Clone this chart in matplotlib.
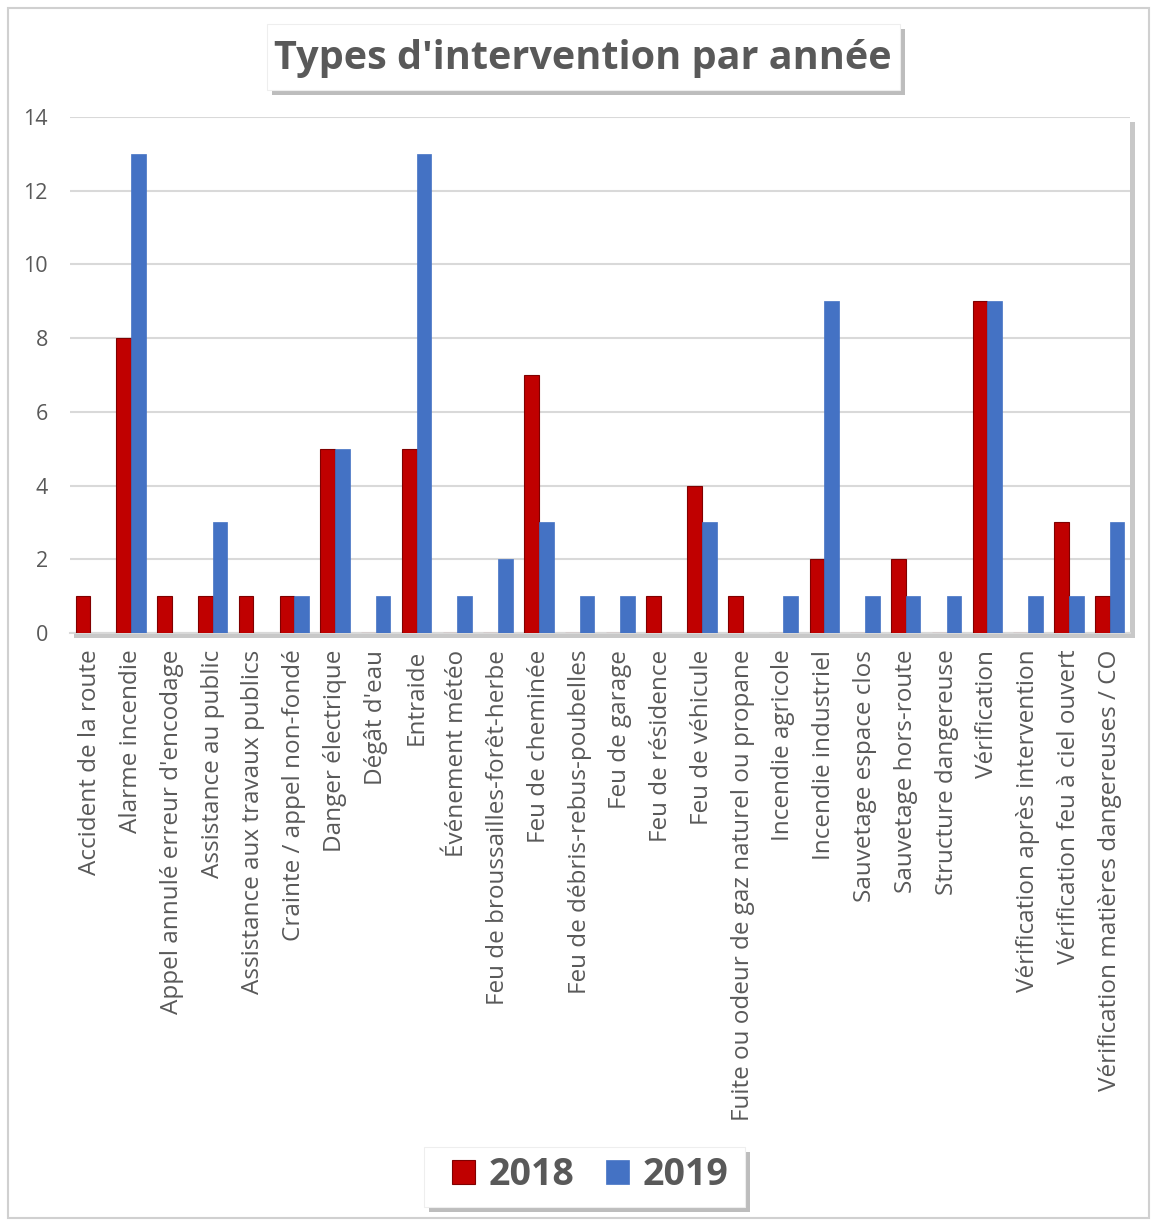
import matplotlib.pyplot as plt
import numpy as np
from matplotlib.patches import Rectangle

categories = [
    "Accident de la route", "Alarme incendie", "Appel annulé erreur d'encodage",
    "Assistance au public", "Assistance aux travaux publics", "Crainte / appel non-fondé",
    "Danger électrique", "Dégât d'eau", "Entraide", "Événement météo",
    "Feu de broussailles-forêt-herbe", "Feu de cheminée", "Feu de débris-rebus-poubelles",
    "Feu de garage", "Feu de résidence", "Feu de véhicule",
    "Fuite ou odeur de gaz naturel ou propane", "Incendie agricole", "Incendie industriel",
    "Sauvetage espace clos", "Sauvetage hors-route", "Structure dangereuse",
    "Vérification", "Vérification après intervention", "Vérification feu à ciel ouvert",
    "Vérification matières dangereuses / CO",
]
y2018 = [1, 8, 1, 1, 1, 1, 5, 0, 5, 0, 0, 7, 0, 0, 1, 4, 1, 0, 2, 0, 2, 0, 9, 0, 3, 1]
y2019 = [0, 13, 0, 3, 0, 1, 5, 1, 13, 1, 2, 3, 1, 1, 0, 3, 0, 1, 9, 1, 1, 1, 9, 1, 1, 3]

RED = '#C00000'
BLUE = '#4472C4'
GREY = '#595959'
plt.rcParams['font.family'] = ['Open Sans', 'DejaVu Sans']

fig = plt.figure(figsize=(11.51, 12.2), dpi=100)
W, H = 1151, 1220

def px_rect(x0, y0, x1, y1, **kw):
    # rectangle in pixel coords (top-left origin) -> figure fraction
    return Rectangle((x0 / W, 1 - y1 / H), (x1 - x0) / W, (y1 - y0) / H,
                     transform=fig.transFigure, **kw)

# outer frame
fig.patches.append(px_rect(8, 8, 1149, 1218, facecolor='white', edgecolor='#D0D0D0', lw=1.5, zorder=-2))

# plot area shadow
fig.patches.append(px_rect(74, 122, 1135, 638, facecolor='#C8C8C8', edgecolor='none', zorder=-1))

ax = fig.add_axes([70 / W, 1 - 633 / H, 1060 / W, 516 / H])
ax.set_zorder(5)
ax.set_facecolor('white')
x = np.arange(len(categories))
bw = 0.36
ax.bar(x - bw / 2, y2018, bw, color=RED, edgecolor='#800000', lw=0.8, label='2018', zorder=3)
ax.bar(x + bw / 2, y2019, bw, color=BLUE, edgecolor=BLUE, lw=0.5, label='2019', zorder=3)

ax.set_xlim(-0.5, len(categories) - 0.5)
ax.set_ylim(0, 14)
ax.set_yticks(range(0, 15, 2))
ax.grid(axis='y', color='#D9D9D9', lw=1.5, zorder=0)
ax.set_xticks(x)
ax.set_xticklabels(categories, rotation=90, fontsize=17.5, color=GREY)
ax.tick_params(axis='y', labelsize=15.5, labelcolor=GREY, length=0, pad=16)
ax.tick_params(axis='x', length=0, pad=12)
for s in ['top', 'right', 'left']:
    ax.spines[s].set_visible(False)
ax.spines['bottom'].set_color('#D9D9D9')
ax.spines['bottom'].set_linewidth(1.5)

# title box with shadow
fig.patches.append(px_rect(272, 29, 905, 95, facecolor='#BDBDBD', edgecolor='none', zorder=1))
fig.patches.append(px_rect(267, 24, 900, 90, facecolor='white', edgecolor='#EEEEEE', lw=0.8, zorder=2))
fig.text(583 / W, 1 - 58 / H, "Types d'intervention par année", ha='center', va='center',
         fontsize=28.5, fontweight='bold', color=GREY, zorder=3)

# legend box with shadow
fig.patches.append(px_rect(429, 1152, 750, 1212, facecolor='#BDBDBD', edgecolor='none', zorder=1))
fig.patches.append(px_rect(424, 1147, 745, 1207, facecolor='white', edgecolor='#EEEEEE', lw=0.8, zorder=2))
leg = fig.legend(loc='center', bbox_to_anchor=(590 / W, 1 - 1175 / H), ncol=2, frameon=False,
                 prop={'size': 27, 'weight': 'bold'}, handlelength=0.62, handleheight=0.62,
                 columnspacing=0.85, handletextpad=0.35)
leg.set_zorder(6)
for t in leg.get_texts():
    t.set_color(GREY)

fig.savefig('out.png', dpi=100, facecolor='white')
